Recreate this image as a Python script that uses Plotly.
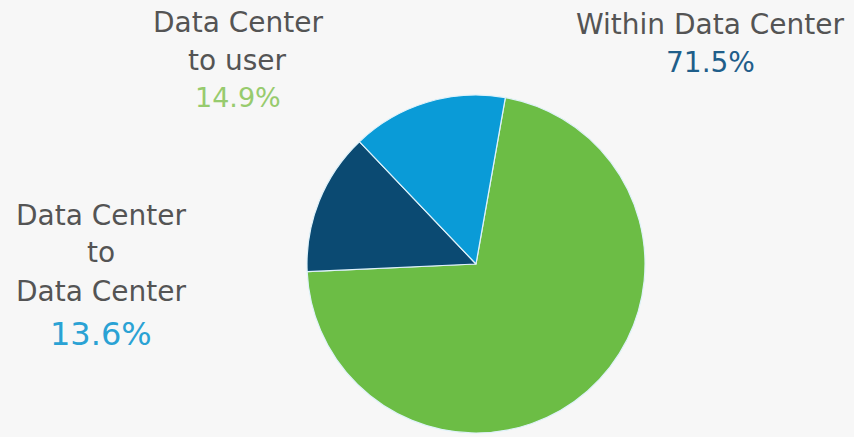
import plotly.graph_objects as go

# Traffic share by destination
categories = ["Within Data Center", "Data Center to Data Center", "Data Center to user"]
shares = [71.5, 13.6, 14.9]
slice_colors = ["#6cbd45", "#0b4a72", "#0a9bd7"]

# Label lines and the colour of each percentage
label_lines = {
    "Within Data Center": ["Within Data Center"],
    "Data Center to Data Center": ["Data Center", "to", "Data Center"],
    "Data Center to user": ["Data Center", "to user"],
}
pct_colors = {
    "Within Data Center": "#1f5e8a",
    "Data Center to Data Center": "#2aa2d4",
    "Data Center to user": "#97cb6e",
}

W, H = 854, 437
FONT = "DejaVu Sans"
TEXT_GRAY = "#545454"

fig = go.Figure(
    go.Pie(
        labels=categories,
        values=shares,
        sort=False,
        direction="clockwise",
        rotation=10,
        marker=dict(colors=slice_colors, line=dict(color="#dff2fa", width=1.2)),
        textinfo="none",
        hoverinfo="label+percent",
        showlegend=False,
        domain=dict(x=[307 / W, 645 / W], y=[1 - 433 / H, 1 - 95 / H]),
    )
)

# Pixel anchors for each label block: centre x, line centres y, percent centre y, percent size
label_layout = {
    "Within Data Center": (710, [24], 63, 28),
    "Data Center to user": (238, [23, 60], 97, 27),
    "Data Center to Data Center": (101, [216, 252, 291], 334, 32),
}

annotations = []
for cat, val in zip(categories, shares):
    cx, line_ys, pct_y, pct_size = label_layout[cat]
    for text, cy in zip(label_lines[cat], line_ys):
        annotations.append(dict(
            x=cx / W, y=1 - cy / H, xref="paper", yref="paper",
            text=text, showarrow=False, xanchor="center", yanchor="middle",
            font=dict(family=FONT, size=28, color=TEXT_GRAY),
        ))
    annotations.append(dict(
        x=cx / W, y=1 - pct_y / H, xref="paper", yref="paper",
        text=f"{val:.1f}%", showarrow=False, xanchor="center", yanchor="middle",
        font=dict(family=FONT, size=pct_size, color=pct_colors[cat]),
    ))

fig.update_layout(
    width=W, height=H,
    margin=dict(l=0, r=0, t=0, b=0),
    paper_bgcolor="#f7f7f7",
    plot_bgcolor="#f7f7f7",
    annotations=annotations,
)

fig.write_html("out.html")
